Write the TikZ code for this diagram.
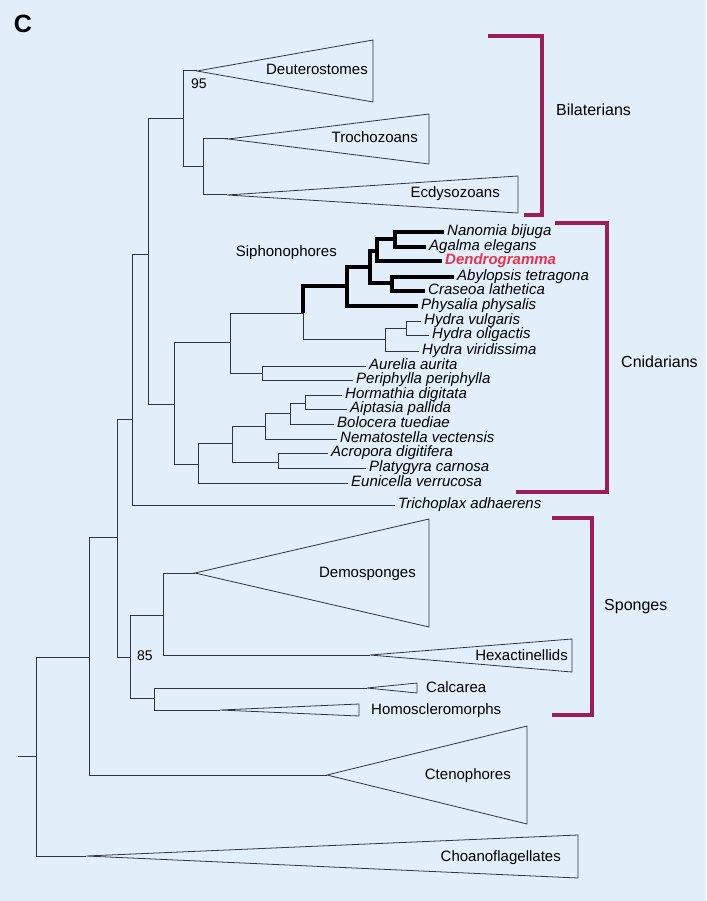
\documentclass[tikz,border=0pt]{standalone}
\usepackage{fontspec}
\setmainfont{Liberation Sans}
\definecolor{bgblue}{RGB}{226,239,251}
\definecolor{bracket}{RGB}{156,30,88}
\definecolor{dendro}{RGB}{230,52,78}
\definecolor{branch}{RGB}{48,52,60}

\begin{document}
\begin{tikzpicture}[x=1pt,y=-1pt,
    br/.style={draw=branch, line width=1pt},
    sip/.style={draw=black, line width=3.2pt, line join=miter},
    clade/.style={draw=branch, line width=0.8pt, line join=miter},
    grpbrk/.style={draw=bracket, line width=4pt, line join=miter},
    taxon/.style={anchor=west, inner xsep=3pt, inner ysep=0pt, text height=10pt, text depth=2.5pt,
        font=\fontsize{15}{15}\selectfont\itshape},
    grp/.style={inner sep=1pt, text height=11pt, text depth=3pt, font=\fontsize{15}{15}\selectfont},
    boot/.style={anchor=west, inner sep=0pt, font=\fontsize{14}{14}\selectfont},
    phylum/.style={anchor=west, inner sep=0pt, font=\fontsize{16}{16}\selectfont}]
    \useasboundingbox (0,0) rectangle (706,901);
    \fill[bgblue] (0,0) rectangle (706,901);
    \node[font=\fontsize{25}{25}\selectfont\bfseries] (panel) at (23,24) {C};
    % internal nodes (x of the vertical, y where the parent joins)
    \coordinate (rootstub) at (18,756);
    \coordinate (rootnode) at (36,756);
    \coordinate (metazoa) at (89,657);
    \coordinate (noncteno) at (117,537);
    \coordinate (parahox) at (132,419);
    \coordinate (planulo) at (148,254);
    \coordinate (bilat) at (183,119);
    \coordinate (protost) at (203,167);
    \coordinate (cnid) at (174,404);
    \coordinate (medusa) at (230,342);
    \coordinate (hydrozoa) at (303,313);
    \coordinate (siph) at (347,286);
    \coordinate (siphA) at (370,267);
    \coordinate (siphB) at (377,251);
    \coordinate (siphC) at (395,239);
    \coordinate (siphD) at (392,283);
    \coordinate (hydra) at (385,339);
    \coordinate (hydraB) at (406,328);
    \coordinate (scypho) at (262,373);
    \coordinate (anthozoa) at (198,464);
    \coordinate (anthA) at (232,443);
    \coordinate (hexacor) at (265,426);
    \coordinate (hexacorB) at (290,413);
    \coordinate (actin) at (305,403);
    \coordinate (scler) at (278,462);
    \coordinate (sponges) at (130,657);
    \coordinate (silicea) at (163,615);
    \coordinate (calchomo) at (154,698);
    % apices of the collapsed clades
    \coordinate (deut) at (197,71);
    \coordinate (troch) at (228,139);
    \coordinate (ecdy) at (227,195);
    \coordinate (demo) at (195,573);
    \coordinate (hexa) at (370,655);
    \coordinate (calc) at (367,688);
    \coordinate (homo) at (220,710);
    \coordinate (cteno) at (327,775);
    \coordinate (choano) at (86,856);
    % species
    \node[taxon] (nanomia) at (444,232) {Nanomia bijuga};
    \node[taxon] (agalma) at (426,247) {Agalma elegans};
    \node[taxon, text=dendro, font=\fontsize{15}{15}\selectfont\bfseries\itshape] (dendrogr) at (442,261) {Dendrogramma};
    \node[taxon] (abylo) at (454,277) {Abylopsis tetragona};
    \node[taxon] (craseoa) at (425,291) {Craseoa lathetica};
    \node[taxon] (physalia) at (418,306) {Physalia physalis};
    \node[taxon] (hvulg) at (421,321) {Hydra vulgaris};
    \node[taxon] (holig) at (429,335) {Hydra oligactis};
    \node[taxon] (hviri) at (419,351) {Hydra viridissima};
    \node[taxon] (aurelia) at (366,366) {Aurelia aurita};
    \node[taxon] (periph) at (353,380) {Periphylla periphylla};
    \node[taxon] (hormath) at (342,395) {Hormathia digitata};
    \node[taxon] (aiptasia) at (347,409) {Aiptasia pallida};
    \node[taxon] (bolocera) at (334,424) {Bolocera tuediae};
    \node[taxon] (nemato) at (337,439) {Nematostella vectensis};
    \node[taxon] (acropora) at (328,453) {Acropora digitifera};
    \node[taxon] (platyg) at (366,468) {Platygyra carnosa};
    \node[taxon] (eunic) at (348,483) {Eunicella verrucosa};
    \node[taxon] (tricho) at (395,505) {Trichoplax adhaerens};
    % backbone
    \draw[br] (rootstub) -- (rootnode);
    \draw[br] (rootnode) |- (metazoa) (rootnode) |- (choano);
    \draw[br] (metazoa) |- (noncteno) (metazoa) |- (cteno);
    \draw[br] (noncteno) |- (parahox) (noncteno) |- (sponges);
    \draw[br] (parahox) |- (planulo) (parahox) |- (tricho.west);
    \draw[br] (planulo) |- (bilat) (planulo) |- (cnid);
    \draw[br] (bilat) |- (deut) (bilat) |- (protost);
    \draw[br] (protost) |- (troch) (protost) |- (ecdy);
    % cnidarians
    \draw[br] (cnid) |- (medusa) (cnid) |- (anthozoa);
    \draw[br] (medusa) |- (hydrozoa) (medusa) |- (scypho);
    \draw[br] (hydrozoa) |- (hydra);
    \draw[br] (hydra) |- (hydraB) (hydra) |- (hviri.west);
    \draw[br] (hydraB) |- (hvulg.west) (hydraB) |- (holig.west);
    \draw[br] (scypho) |- (aurelia.west) (scypho) |- (periph.west);
    \draw[br] (anthozoa) |- (anthA) (anthozoa) |- (eunic.west);
    \draw[br] (anthA) |- (hexacor) (anthA) |- (scler);
    \draw[br] (hexacor) |- (hexacorB) (hexacor) |- (nemato.west);
    \draw[br] (hexacorB) |- (actin) (hexacorB) |- (bolocera.west);
    \draw[br] (actin) |- (hormath.west) (actin) |- (aiptasia.west);
    \draw[br] (scler) |- (acropora.west) (scler) |- (platyg.west);
    % siphonophores in bold
    \draw[sip] (hydrozoa) |- (siph);
    \draw[sip] (siph) |- (siphA) (siph) |- (physalia.west);
    \draw[sip] (siphA) |- (siphB) (siphA) |- (siphD);
    \draw[sip] (siphB) |- (siphC) (siphB) |- (dendrogr.west);
    \draw[sip] (siphC) |- (nanomia.west) (siphC) |- (agalma.west);
    \draw[sip] (siphD) |- (abylo.west) (siphD) |- (craseoa.west);
    \node[grp, anchor=east] (siphlab) at (338,252) {Siphonophores};
    % sponges
    \draw[br] (sponges) |- (silicea) (sponges) |- (calchomo);
    \draw[br] (silicea) |- (demo) (silicea) |- (hexa);
    \draw[br] (calchomo) |- (calc) (calchomo) |- (homo);
    % collapsed clades
    \draw[clade] (deut) -- (373,40) -- (373,102) -- cycle;
    \node[grp, anchor=east] (deutlab) at (369,71) {Deuterostomes};
    \draw[clade] (troch) -- (429,114) -- (429,164) -- cycle;
    \node[grp, anchor=east] (trochlab) at (419,139) {Trochozoans};
    \draw[clade] (ecdy) -- (518,176) -- (518,213) -- cycle;
    \node[grp, anchor=east] (ecdylab) at (501,194) {Ecdysozoans};
    \draw[clade] (demo) -- (429,519) -- (429,627) -- cycle;
    \node[grp, anchor=east] (demolab) at (417,573) {Demosponges};
    \draw[clade] (hexa) -- (572,639) -- (572,672) -- cycle;
    \node[grp, anchor=east] (hexalab) at (569,656) {Hexactinellids};
    \draw[clade] (calc) -- (417,683) -- (417,693) -- cycle;
    \node[grp, anchor=west] (calclab) at (425,688) {Calcarea};
    \draw[clade] (homo) -- (359,704) -- (359,716) -- cycle;
    \node[grp, anchor=west] (homolab) at (370,710) {Homoscleromorphs};
    \draw[clade] (cteno) -- (527,726) -- (527,824) -- cycle;
    \node[grp, anchor=east] (ctenolab) at (512,775) {Ctenophores};
    \draw[clade] (choano) -- (578,835) -- (578,878) -- cycle;
    \node[grp, anchor=east] (choanolab) at (562,857) {Choanoflagellates};
    % bootstrap values
    \node[boot] (bs95) at (191,84) {95};
    \node[boot] (bs85) at (137,656) {85};
    % brackets for the groups
    \draw[grpbrk] (488,36) -- (542,36) -- (542,215) -- (524,215);
    \node[phylum] (bilab) at (556,110) {Bilaterians};
    \draw[grpbrk] (555,223) -- (607,223) -- (607,492) -- (516,492);
    \node[phylum] (cnidlab) at (621,362) {Cnidarians};
    \draw[grpbrk] (552,518) -- (592,518) -- (592,715) -- (552,715);
    \node[phylum] (spongelab) at (604,607) {Sponges};
\end{tikzpicture}
\end{document}
